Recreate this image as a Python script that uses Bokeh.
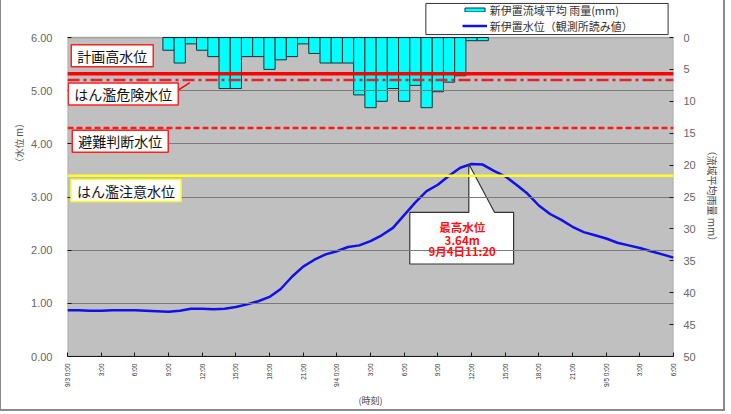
import math
from bokeh.plotting import figure
from bokeh.models import (Range1d, LinearAxis, FixedTicker, Span, Label, Legend, LegendItem,
                          BoxAnnotation)
from bokeh.embed import file_html
from bokeh.resources import INLINE

# ---------------- data ----------------
level_hours = list(range(0, 55))          # hours since 9/3 0:00
water_level = [0.87, 0.87, 0.86, 0.86, 0.87, 0.87, 0.87, 0.86, 0.85, 0.84,
               0.86, 0.90, 0.90, 0.89, 0.90, 0.93, 0.98, 1.04, 1.12, 1.27,
               1.50, 1.69, 1.82, 1.92, 1.98, 2.06, 2.09, 2.17, 2.28, 2.42,
               2.66, 2.90, 3.11, 3.23, 3.40, 3.55, 3.62, 3.61, 3.49, 3.39,
               3.23, 3.06, 2.84, 2.68, 2.57, 2.44, 2.34, 2.28, 2.22, 2.14,
               2.09, 2.04, 1.98, 1.92, 1.86]

rain_hours = list(range(9, 38))
rainfall = [2, 4, 1, 2, 3, 8, 8, 3, 3, 5,
            3.5, 3, 1, 2.5, 4, 4, 4, 9, 11, 10,
            8, 10, 7.5, 11, 8.5, 7, 6, 0.5, 0.5]

threshold_names = ["計画高水位", "はん濫危険水位", "避難判断水位", "はん濫注意水位"]
threshold_levels = [5.32, 5.20, 4.30, 3.40]

peak_texts = ["最高水位", "3.64m", "9月4日11:20"]

series_names = ["新伊置流域平均 雨量(mm)", "新伊置水位（観測所読み値）"]

x_tick_hours = list(range(0, 55, 3))
x_tick_labels = ["9/3 0:00", "3:00", "6:00", "9:00", "12:00", "15:00", "18:00", "21:00",
                 "9/4 0:00", "3:00", "6:00", "9:00", "12:00", "15:00", "18:00", "21:00",
                 "9/5 0:00", "3:00", "6:00"]
y_ticks = [0, 1, 2, 3, 4, 5, 6]
y_tick_labels = ["0.00", "1.00", "2.00", "3.00", "4.00", "5.00", "6.00"]
rain_ticks = [0, 5, 10, 15, 20, 25, 30, 35, 40, 45, 50]
rain_tick_labels = ["0", "5", "10", "15", "20", "25", "30", "35", "40", "45", "50"]

JP = "Noto Sans CJK JP"
LAT = "Liberation Sans"

# ---------------- layout geometry ----------------
W, H = 725, 411
FL, FR, FB = 66, 672, 356          # frame left/right/bottom in canvas px
PLOT_TOP = 37                      # canvas px where the 6.00 / 0 mm line sits
Y_MAX = 6 * FB / (FB - PLOT_TOP)   # frame extends to canvas top (room for legend)
R_MIN = 50 - 50 * FB / (FB - PLOT_TOP)


def sx(px):
    return px - FL - 1


def sy(py):
    return FB - py


p = figure(width=W, height=H, x_range=Range1d(0, 54), y_range=Range1d(0, Y_MAX),
           output_backend="svg", toolbar_location=None,
           min_border_left=FL, min_border_right=W - FR, min_border_top=0,
           min_border_bottom=H - FB)
p.styles = {"border-left": "1px solid #8a8a8a", "border-right": "2px solid #8a8a8a",
            "border-bottom": "2px solid #8a8a8a"}
p.extra_y_ranges = {"rain": Range1d(50, R_MIN)}
p.background_fill_color = "white"
p.border_fill_color = "white"
p.outline_line_color = None

# grey plotting area + outline
p.add_layout(BoxAnnotation(left=0, right=54, bottom=0, top=6, fill_color="#C0C0C0",
                           fill_alpha=1, line_color=None, level="underlay"))
p.xgrid.visible = False
p.ygrid.ticker = FixedTicker(ticks=y_ticks[1:-1])
p.ygrid.grid_line_color = "#7a7a7a"
p.ygrid.grid_line_width = 1
p.ygrid.level = "glyph"

# x axis
xa = p.xaxis[0]
xa.ticker = FixedTicker(ticks=x_tick_hours)
xa.major_label_overrides = {h: t for h, t in zip(x_tick_hours, x_tick_labels)}
xa.major_label_orientation = math.pi / 2
xa.major_label_text_font = LAT
xa.major_label_text_font_size = "6.5px"
xa.major_label_text_color = "#333333"
xa.major_label_standoff = 7
xa.major_tick_in = 4
xa.major_tick_out = 0
xa.minor_tick_line_color = None
xa.axis_line_color = "#1a1a1a"
xa.major_tick_line_color = "#1a1a1a"
xa.axis_label = "(時刻)"
xa.axis_label_text_font = JP
xa.axis_label_text_font_size = "9px"
xa.axis_label_text_font_style = "normal"
xa.axis_label_text_color = "#444444"
xa.axis_label_standoff = 4

# left axis (title padded with ideographic spaces so it sits higher, as in the original)
ya = p.yaxis[0]
ya.ticker = FixedTicker(ticks=y_ticks)
ya.major_label_overrides = {v: t for v, t in zip(y_ticks, y_tick_labels)}
ya.major_label_text_font = LAT
ya.major_label_text_font_size = "11px"
ya.major_label_text_color = "#666666"
ya.major_label_standoff = 15
ya.major_tick_in = 4
ya.major_tick_out = 0
ya.minor_tick_line_color = None
ya.axis_line_color = None
ya.major_tick_line_color = "#1a1a1a"
ya.axis_label = "\u3000" * 8 + "（水位 m）"
ya.axis_label_text_font = JP
ya.axis_label_text_font_size = "9.5px"
ya.axis_label_text_font_style = "normal"
ya.axis_label_text_color = "#555555"
ya.axis_label_standoff = 2

# right axis (rain, inverted)
ra = LinearAxis(y_range_name="rain", ticker=FixedTicker(ticks=rain_ticks))
ra.major_label_overrides = {v: t for v, t in zip(rain_ticks, rain_tick_labels)}
ra.major_label_text_font = LAT
ra.major_label_text_font_size = "11px"
ra.major_label_text_color = "#666666"
ra.major_label_standoff = 10
ra.major_tick_in = 4
ra.major_tick_out = 0
ra.minor_tick_line_color = None
ra.axis_line_color = None
ra.major_tick_line_color = "#1a1a1a"
ra.axis_label = "\u3000" * 4 + "（流域平均雨量 mm）"
ra.axis_label_text_font = JP
ra.axis_label_text_font_size = "10px"
ra.axis_label_text_font_style = "normal"
ra.axis_label_text_color = "#444444"
ra.axis_label_standoff = 6
p.add_layout(ra, "right")

# ---------------- glyphs ----------------
bars = p.vbar(x=rain_hours, top=0, bottom=rainfall, width=1, y_range_name="rain",
              fill_color="#00FFFF", line_color="#1a3030", line_width=1)

line_styles = [("#FF0000", 3.5, "solid"), ("#E8202A", 2.5, "12 4 3 4"),
               ("#FF1A1A", 2.5, "6 3"), ("#FFFF22", 2.5, "solid")]
for lvl, (col, w, dash) in zip(threshold_levels, line_styles):
    p.add_layout(Span(location=lvl, dimension="width", line_color=col,
                      line_width=w, line_dash=dash))

wl = p.line(level_hours, water_level, line_color="#1010E8", line_width=2.5)

# plot-area outline
p.add_layout(BoxAnnotation(left=0, right=54, bottom=0, top=6, fill_alpha=0,
                           line_color="#1a1a1a", line_width=1.3, level="guide"))

# leader line for はん濫危険水位 label
p.segment(x0=[9.8], y0=[threshold_levels[1] - 0.20], x1=[10.9], y1=[threshold_levels[1] - 0.05],
          line_color="#FF0000", line_width=1.5)

# callout for peak
cx = [30.5, 35.76, 35.76, 38.06, 39.75, 39.75, 30.5]
cy = [2.71, 2.71, 3.62, 2.71, 2.71, 1.74, 1.74]
p.patch(cx, cy, fill_color="white", line_color="#333333", line_width=1.2)
for t, yy in zip(peak_texts, [2.445, 2.195, 1.975]):
    p.add_layout(Label(x=35.17, y=yy, text=t, text_align="center", text_baseline="middle",
                       text_font=JP, text_font_size="11.5px", text_font_style="bold",
                       text_color="#FF1010"))

# threshold labels (box centres in page px)
label_pos = [(111.75, 55.25), (122.75, 93.5), (119.75, 140.75), (125.5, 190)]
label_border = ["#FF2020", "#FF2020", "#FF2020", "#FFFF22"]
for name, (px, py), bc in zip(threshold_names, label_pos, label_border):
    p.add_layout(Label(x=sx(px), y=sy(py), x_units="screen", y_units="screen", text=name,
                       text_align="center", text_baseline="middle",
                       text_font=JP, text_font_size="14px", text_color="#111111",
                       background_fill_color="white", border_line_color=bc,
                       border_line_width=1.5, padding=(6, 6, 1, 1)))

# legend frame
p.add_layout(Label(x=sx(546.5), y=sy(18.5), x_units="screen", y_units="screen", text=" ",
                   text_align="center", text_baseline="middle", text_font_size="1px",
                   background_fill_color="white", border_line_color="#333333",
                   border_line_width=1, padding=(121, 121, 15, 15)))

legend = Legend(items=[LegendItem(label=series_names[0], renderers=[bars]),
                       LegendItem(label=series_names[1], renderers=[wl])],
                location=(sx(461.7), sy(33.5)), orientation="vertical", padding=0, margin=0,
                spacing=-4, glyph_width=25, glyph_height=5, label_height=12, label_standoff=3,
                label_text_font=JP, label_text_font_size="11px", label_text_color="#333333",
                background_fill_alpha=0, border_line_alpha=0)
p.add_layout(legend)

open("out.html", "w", encoding="utf-8").write(file_html(p, INLINE))
